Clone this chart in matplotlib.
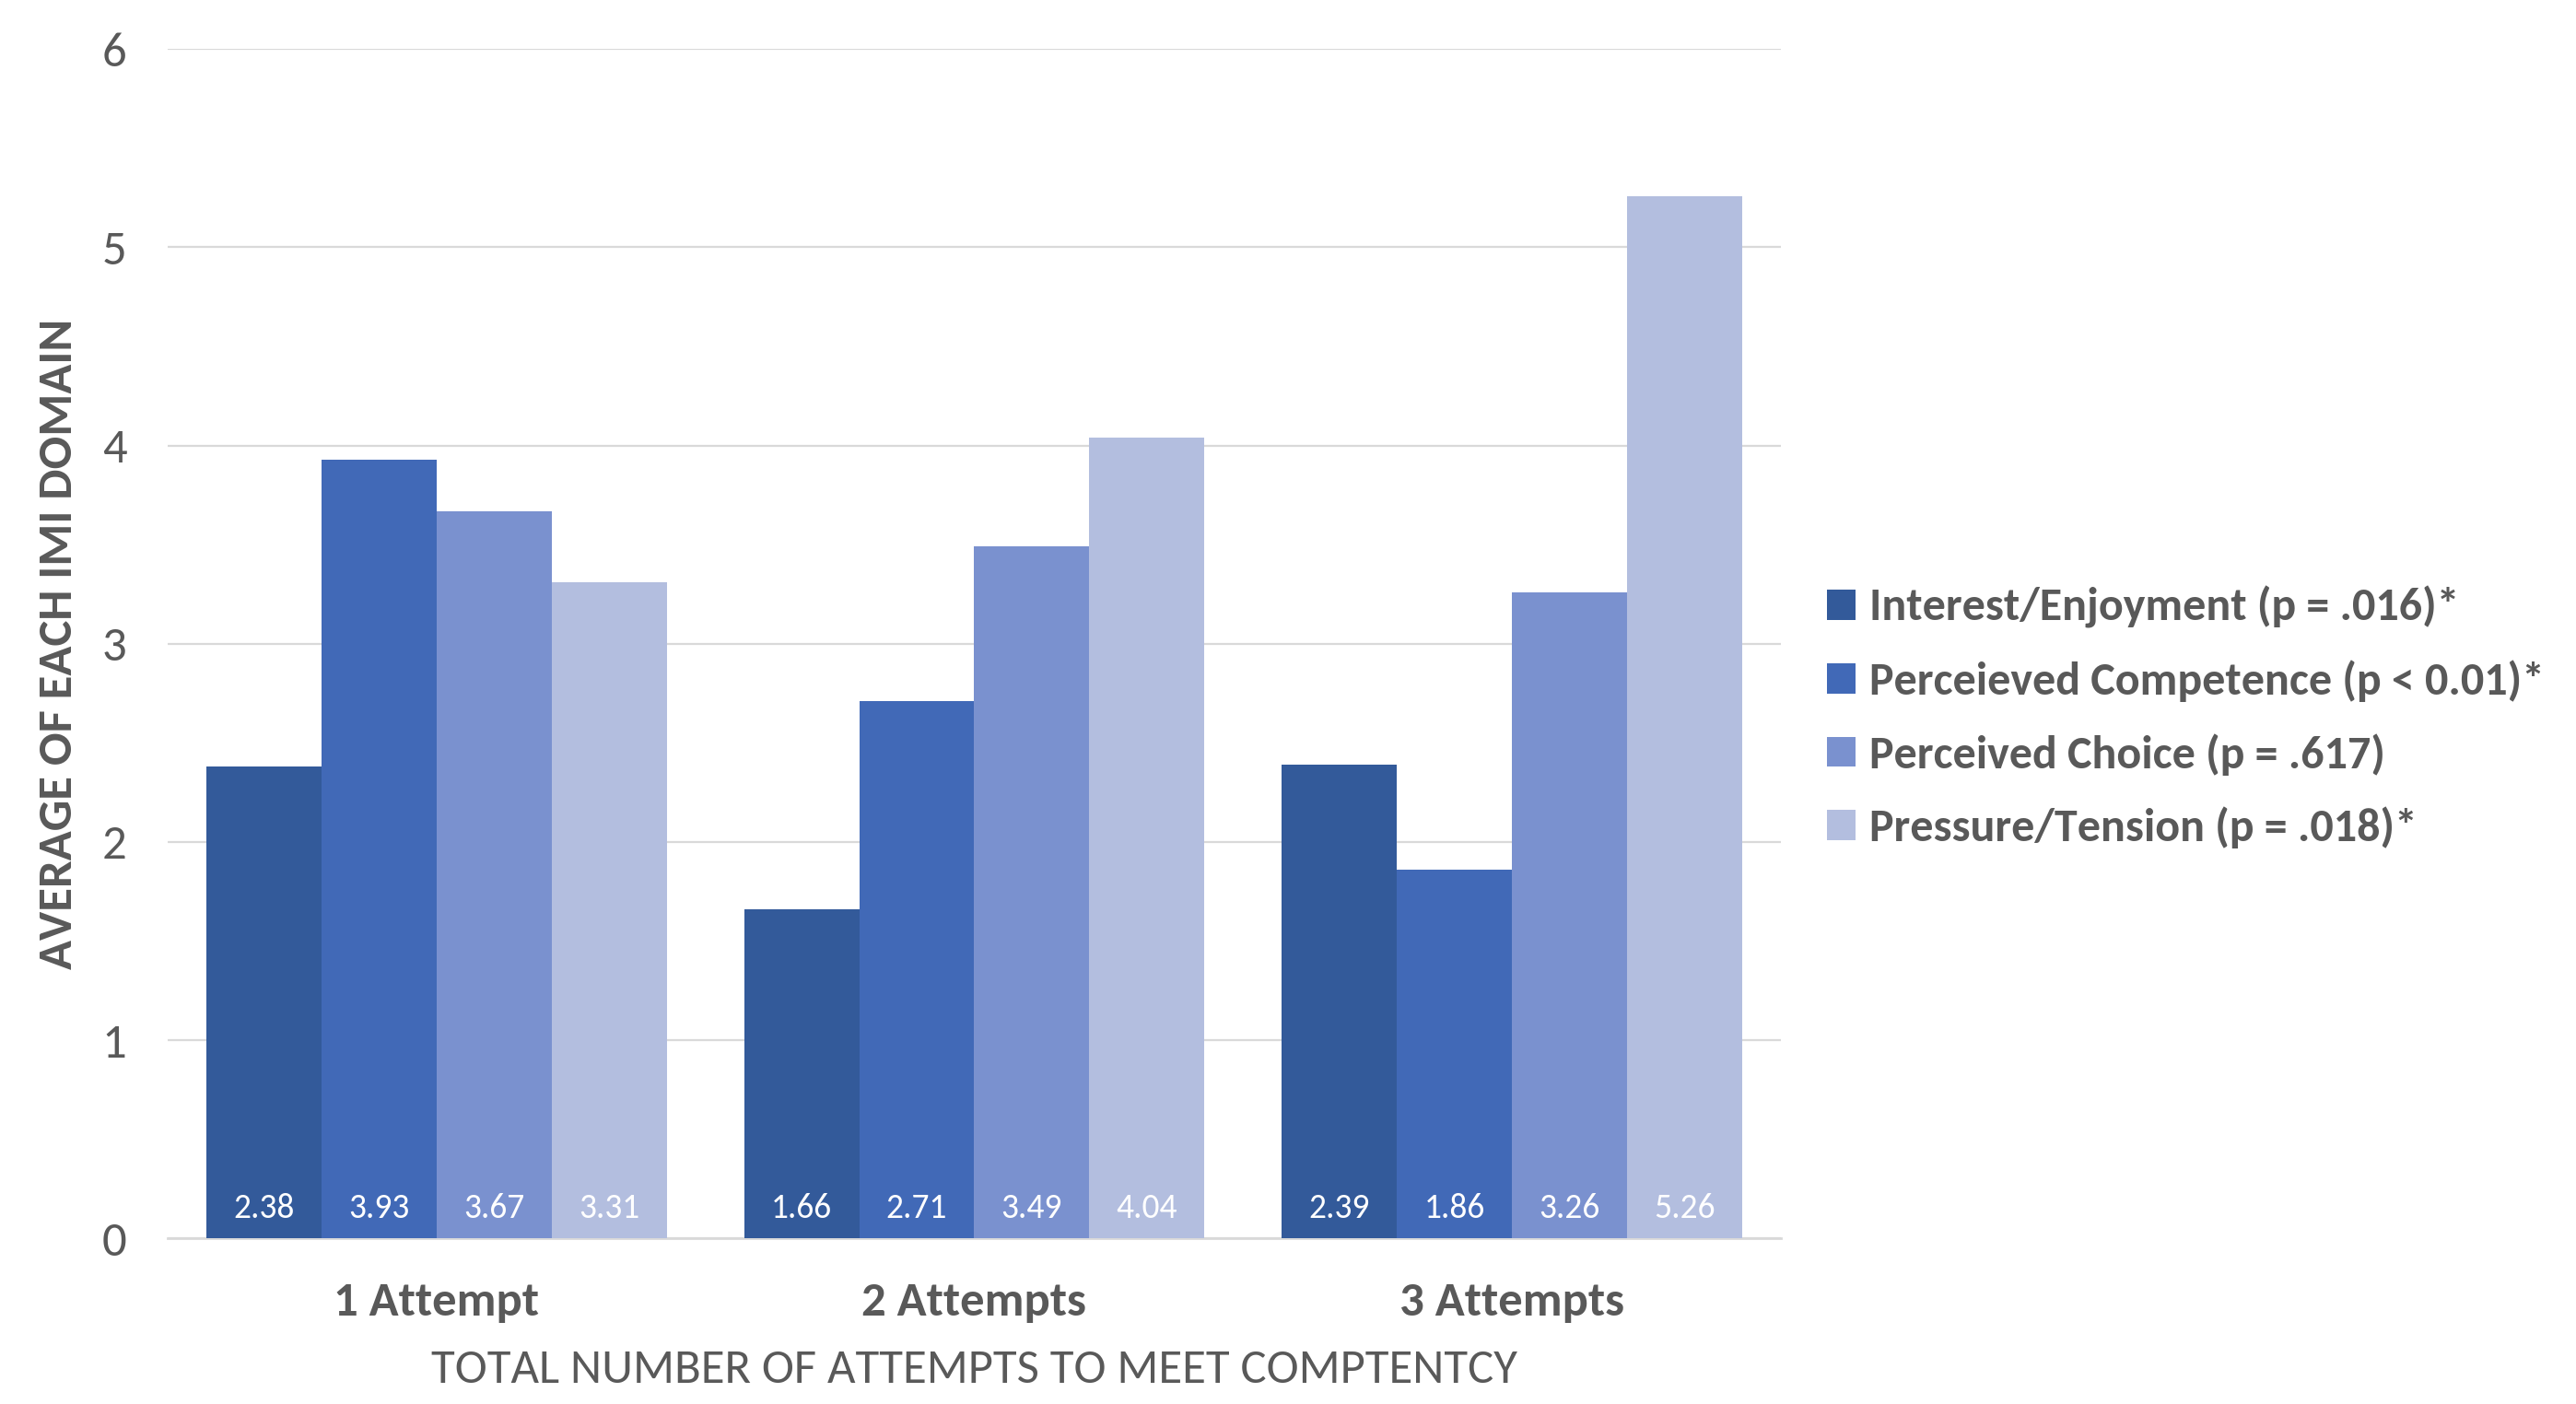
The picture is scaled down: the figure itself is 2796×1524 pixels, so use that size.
import matplotlib
matplotlib.use("Agg")
import matplotlib.pyplot as plt
import matplotlib.font_manager as fm
import numpy as np

# pick a Calibri-like font if we have one
have = {f.name for f in fm.fontManager.ttflist}
for name in ["Carlito", "Lato", "Open Sans", "DejaVu Sans"]:
    if name in have:
        plt.rcParams["font.family"] = [name, "DejaVu Sans"]
        break

groups = ["1 Attempt", "2 Attempts", "3 Attempts"]
series = ["Interest/Enjoyment (p = .016)*",
          "Perceieved Competence (p < 0.01)*",
          "Perceived Choice (p = .617)",
          "Pressure/Tension (p = .018)*"]
interest = [2.38, 1.66, 2.39]
competence = [3.93, 2.71, 1.86]
choice = [3.67, 3.49, 3.26]
pressure = [3.31, 4.04, 5.26]
colors = ["#335A9A", "#4169B7", "#7A91CF", "#B3BEDF"]

gray = "#595959"
fig = plt.figure(figsize=(13.98, 7.62), dpi=200)
ax = fig.add_axes([0.0651, 0.118, 0.6262, 0.847])

x = np.arange(len(groups))
w = 0.214
for i, (vals, lab, c) in enumerate(zip([interest, competence, choice, pressure], series, colors)):
    pos = x + (i - 1.5) * w
    ax.bar(pos, vals, width=w, color=c, label=lab, zorder=3)
    for p, v in zip(pos, vals):
        ax.text(p, 0.15, f"{v:.2f}", ha="center", va="center", color="white", fontsize=13.5, zorder=4)

ax.set_xlim(-0.5, 2.5)
ax.set_ylim(0, 6)
ax.set_yticks(range(7))
ax.grid(axis="y", color="#D9D9D9", linewidth=0.8, zorder=0)
for s in ["top", "right", "left"]:
    ax.spines[s].set_visible(False)
ax.spines["bottom"].set_color("#D9D9D9")
ax.spines["bottom"].set_linewidth(1.0)
ax.tick_params(axis="y", length=0, pad=16, labelsize=19, labelcolor=gray)
ax.tick_params(axis="x", length=0, pad=17, labelsize=19, labelcolor=gray)
ax.set_xticks(x)
ax.set_xticklabels(groups, fontweight="bold")
ax.set_xlabel("TOTAL NUMBER OF ATTEMPTS TO MEET COMPTENTCY", fontsize=19, color=gray, labelpad=10)
ax.set_ylabel("AVERAGE OF EACH IMI DOMAIN", fontsize=19, color=gray, fontweight="bold", labelpad=9)

leg = fig.legend(loc="center left", bbox_to_anchor=(0.693, 0.489), frameon=False,
                 fontsize=18, handlelength=0.63, handleheight=0.63, handletextpad=0.3,
                 labelspacing=0.68)
for t in leg.get_texts():
    t.set_color(gray)
    t.set_fontweight("bold")

fig.savefig("out.png", dpi=200)
